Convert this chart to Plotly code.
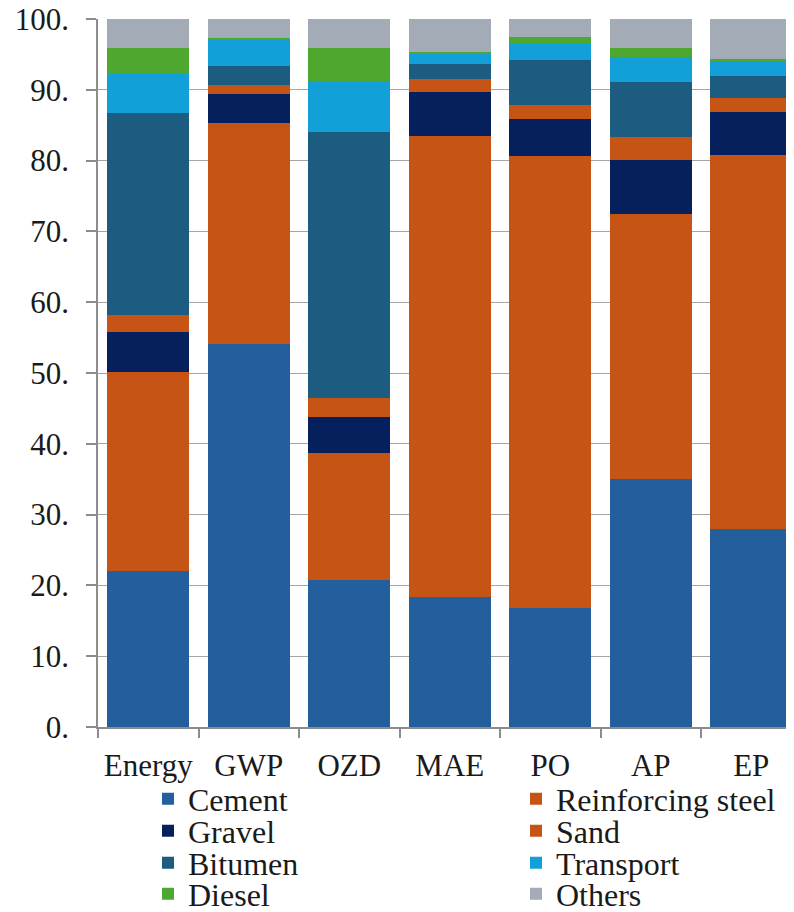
import plotly.graph_objects as go

categories = ["Energy", "GWP", "OZD", "MAE", "PO", "AP", "EP"]
cement = [22.0, 54.1, 20.8, 18.4, 16.8, 35.0, 28.0]
reinforcing_steel = [28.1, 31.2, 17.9, 65.1, 63.8, 37.5, 52.8]
gravel = [5.7, 4.1, 5.1, 6.2, 5.3, 7.6, 6.1]
sand = [2.4, 1.3, 2.7, 1.8, 2.0, 3.2, 2.0]
bitumen = [28.5, 2.7, 37.5, 2.1, 6.3, 7.8, 3.1]
transport = [5.5, 3.6, 7.2, 1.5, 2.4, 3.5, 2.2]
diesel = [3.7, 0.3, 4.7, 0.3, 0.8, 1.3, 0.2]
others = [4.1, 2.7, 4.1, 4.6, 2.6, 4.1, 5.6]

y_tickvals = [0, 10, 20, 30, 40, 50, 60, 70, 80, 90, 100]
y_ticktext = ["0.", "10.", "20.", "30.", "40.", "50.", "60.", "70.", "80.", "90.", "100."]

series = [
    ("Cement", cement, "#245F9D"),
    ("Reinforcing steel", reinforcing_steel, "#C55415"),
    ("Gravel", gravel, "#061F5D"),
    ("Sand", sand, "#C55415"),
    ("Bitumen", bitumen, "#1B5C80"),
    ("Transport", transport, "#139FD8"),
    ("Diesel", diesel, "#4EA72E"),
    ("Others", others, "#A3ABB6"),
]

FONT = "Liberation Serif, Times New Roman, serif"
W, H = 794, 912

# legend slot positions (pixels in the figure): two columns, four rows
col_x = [140, 508]
row_y = [791, 823, 855, 886]

fig = go.Figure()
layout_legends = {}
for i, (name, vals, color) in enumerate(series):
    key = "legend" if i == 0 else f"legend{i+1}"
    fig.add_trace(go.Bar(
        x=categories, y=vals, name=name,
        marker=dict(color=color, line=dict(width=0)),
        legend=key, showlegend=True,
    ))
    cx = col_x[i % 2]
    ry = row_y[i // 2]
    layout_legends[key] = dict(
        xref="container", yref="container",
        x=cx / W, y=1 - ry / H,
        xanchor="left", yanchor="middle",
        orientation="v",
        bgcolor="rgba(0,0,0,0)", borderwidth=0,
        font=dict(family=FONT, size=32, color="#1a1a1a"),
    )

fig.update_layout(
    width=W, height=H,
    barmode="stack", bargap=0.185,
    plot_bgcolor="white", paper_bgcolor="white",
    margin=dict(l=90, r=0, t=11, b=193, autoexpand=False),
    font=dict(family=FONT, size=31, color="#1a1a1a"),
    showlegend=True,
    **layout_legends,
)
fig.update_xaxes(
    type="category", range=[-0.5, 6.505],
    showline=True, linecolor="#8c8c8c", linewidth=1.5,
    ticks="outside", tickson="boundaries", ticklen=9, tickcolor="#8c8c8c", tickwidth=1.5,
    showgrid=False, tickangle=0, automargin=False, ticklabelstandoff=10,
    ticklabeloverflow="allow",
    tickfont=dict(family=FONT, size=31, color="#1a1a1a"),
)
fig.update_yaxes(
    range=[0, 100], tickvals=y_tickvals, ticktext=y_ticktext,
    showline=True, linecolor="#8c8c8c", linewidth=1.5,
    ticks="outside", ticklen=10, tickcolor="#8c8c8c", tickwidth=1.5,
    showgrid=True, gridcolor="#a6a6a6", gridwidth=1,
    zeroline=False, automargin=False, ticklabelstandoff=11,
    ticklabeloverflow="allow",
    tickfont=dict(family=FONT, size=31, color="#1a1a1a"),
)

fig.write_html("out.html")
